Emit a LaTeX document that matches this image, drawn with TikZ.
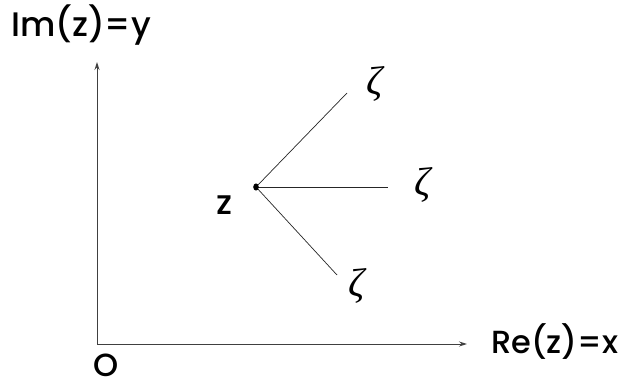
\documentclass[tikz,border=0pt]{standalone}
\usepackage{fontspec}
\setmainfont{Poppins}
\newfontfamily\lblfont{Poppins Medium}
\newfontfamily\grk{Liberation Serif}
\usetikzlibrary{arrows.meta}
\begin{document}
\begin{tikzpicture}[x=1pt,y=-1pt,
  axis/.style={draw=black!75, line width=0.9pt, -{Stealth[length=8pt,width=5pt]}},
  ray/.style={draw=black!85, line width=0.7pt},
  lbl/.style={inner sep=0pt, anchor=base west, font=\lblfont\fontsize{34}{36}\selectfont},
  zeta/.style={inner sep=0pt, font=\grk\itshape\fontsize{40}{42}\selectfont}]
\useasboundingbox (0,0) rectangle (634,387);
\coordinate (O) at (97,344);
\coordinate (ytip) at (97,62);
\coordinate (xtip) at (467,344);
\draw[axis] (O) -- (ytip);
\draw[axis] (O) -- (xtip);
\node[lbl] (im) at (11,37) {Im(z)=y};
\node[lbl, font=\lblfont\fontsize{32}{34}\selectfont] (re) at (491,353) {Re(z)=x};
\node[lbl, font=\lblfont\fontsize{32}{34}\selectfont] (o) at (93,376) {O};
\node[inner sep=0pt, anchor=base, font=\lblfont\fontsize{34}{36}\selectfont] (zl) at (225,215) {z};
\coordinate (z) at (256,187);
\coordinate (e1) at (347,93);
\coordinate (e2) at (388,187);
\coordinate (e3) at (337,275);
\draw[ray] (z) -- (e1);
\draw[ray] (z) -- (e2);
\draw[ray] (z) -- (e3);
\fill (z) ellipse (2.8pt and 3.6pt);
\node[zeta] (z1) at (375,84) {ζ};
\node[zeta] (z2) at (423,185) {ζ};
\node[zeta] (z3) at (357,286) {ζ};
\end{tikzpicture}
\end{document}
